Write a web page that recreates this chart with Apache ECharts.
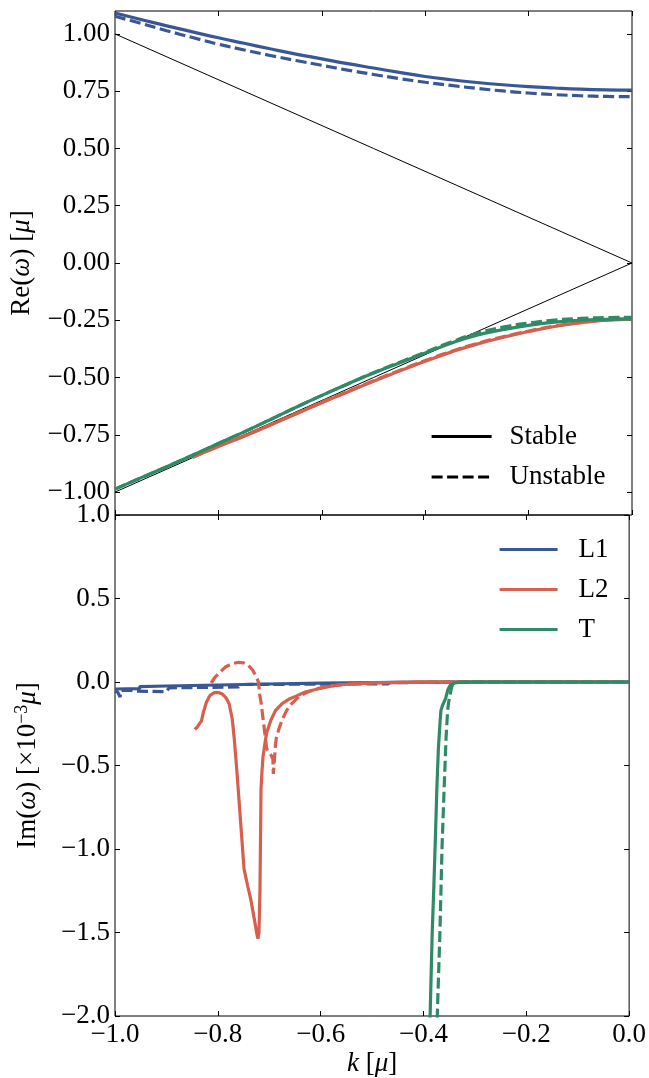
<!DOCTYPE html>
<html lang="en">
<head>
<meta charset="UTF-8">
<title>Dispersion</title>
<script src="https://cdn.jsdelivr.net/npm/echarts@6.0.0/dist/echarts.min.js"></script>
</head>
<body style="margin:0;background:#fff">
<div id="chart" style="width:649px;height:1078px"></div>
<script>
// ---- data ----
// Re(w) panel, k grid
var kRe = [-1.00, -0.95, -0.90, -0.85, -0.80, -0.75, -0.70, -0.65, -0.60, -0.55, -0.50,
           -0.45, -0.40, -0.35, -0.30, -0.25, -0.20, -0.15, -0.10, -0.05, 0.00];
var reL1Stable   = [1.091, 1.063, 1.035, 1.009, 0.983, 0.959, 0.935, 0.912, 0.891, 0.870, 0.851,
                    0.832, 0.814, 0.800, 0.788, 0.778, 0.770, 0.764, 0.759, 0.756, 0.755];
var reL1Unstable = [1.077, 1.046, 1.014, 0.984, 0.955, 0.930, 0.906, 0.884, 0.863, 0.842, 0.823,
                    0.805, 0.789, 0.775, 0.762, 0.751, 0.742, 0.735, 0.730, 0.727, 0.726];
var reTStable    = [-0.987, -0.938, -0.889, -0.839, -0.788, -0.737, -0.684, -0.630, -0.578, -0.528, -0.480,
                    -0.436, -0.393, -0.350, -0.315, -0.291, -0.272, -0.258, -0.250, -0.246, -0.244];
var reTUnstable  = [-0.987, -0.938, -0.889, -0.839, -0.788, -0.737, -0.684, -0.630, -0.578, -0.528, -0.479,
                    -0.434, -0.390, -0.345, -0.307, -0.280, -0.262, -0.249, -0.242, -0.238, -0.237];
var kReL2 = [-0.85, -0.80, -0.75, -0.70, -0.65, -0.60, -0.55, -0.50, -0.45,
             -0.40, -0.35, -0.30, -0.25, -0.20, -0.15, -0.10, -0.05, 0.00];
var reL2Stable   = [-0.848, -0.801, -0.756, -0.708, -0.659, -0.610, -0.563, -0.516, -0.472,
                    -0.429, -0.389, -0.354, -0.325, -0.299, -0.277, -0.261, -0.250, -0.245];
var reL2Unstable = [-0.848, -0.800, -0.754, -0.706, -0.657, -0.608, -0.561, -0.514, -0.469,
                    -0.426, -0.386, -0.351, -0.322, -0.297, -0.275, -0.259, -0.249, -0.244];
// light lines w = +-k
var kDiag = [-1, 0];
var diagUp = [1, 0];
var diagDown = [-1, 0];

// Im(w) panel (x 1e-3)
var kImL1Stable = [-1.000, -0.952, -0.952, -0.900, -0.800, -0.700, -0.600, -0.500, -0.400, -0.300, 0.000];
var imL1Stable  = [-0.042, -0.040, -0.028, -0.024, -0.018, -0.012, -0.007, -0.003, -0.001, 0.000, 0.000];
var kImL1Unstable = [-1.000, -0.995, -0.990, -0.988, -0.970, -0.960, -0.900, -0.895, -0.820, -0.760, -0.755, -0.570, -0.470, -0.465, -0.300, 0.000];
var imL1Unstable  = [-0.055, -0.060, -0.090, -0.050, -0.050, -0.055, -0.058, -0.035, -0.032, -0.030, -0.015, -0.012, -0.012, -0.004, 0.000, 0.000];

var kImL2Stable = [-0.845, -0.840, -0.836, -0.832, -0.828, -0.822, -0.815, -0.807, -0.800, -0.792, -0.784, -0.778,
                   -0.772, -0.768, -0.763, -0.758, -0.753, -0.749, -0.742, -0.736, -0.729, -0.724, -0.722, -0.720,
                   -0.719, -0.718, -0.717, -0.716, -0.714, -0.712, -0.708, -0.705, -0.697, -0.688, -0.675, -0.660,
                   -0.649, -0.630, -0.610, -0.597, -0.575, -0.546, -0.500, -0.450, -0.400, -0.350, 0.000];
var imL2Stable  = [-0.284, -0.270, -0.250, -0.235, -0.180, -0.120, -0.080, -0.064, -0.062, -0.070, -0.095, -0.130,
                   -0.220, -0.340, -0.530, -0.740, -0.950, -1.120, -1.220, -1.300, -1.420, -1.510, -1.537, -1.500,
                   -1.380, -1.240, -0.950, -0.640, -0.530, -0.444, -0.360, -0.304, -0.230, -0.172, -0.130, -0.100,
                   -0.086, -0.060, -0.045, -0.036, -0.022, -0.012, -0.005, -0.002, -0.001, 0.000, 0.000];
var kImL2Unstable = [-0.813, -0.805, -0.795, -0.785, -0.772, -0.760, -0.750, -0.740, -0.732, -0.726, -0.721, -0.720,
                     -0.719, -0.716, -0.712, -0.708, -0.705, -0.700, -0.696, -0.693, -0.692, -0.690, -0.688, -0.686,
                     -0.680, -0.674, -0.666, -0.658, -0.642, -0.625, -0.610, -0.585, -0.558, -0.520, -0.480, -0.400,
                     -0.300, 0.000];
var imL2Unstable  = [-0.006, 0.030, 0.062, 0.090, 0.110, 0.118, 0.115, 0.098, 0.070, 0.035, 0.000, -0.030,
                     -0.070, -0.120, -0.220, -0.320, -0.400, -0.420, -0.440, -0.460, -0.550, -0.470, -0.380, -0.330,
                     -0.270, -0.220, -0.170, -0.135, -0.086, -0.060, -0.042, -0.025, -0.016, -0.008, -0.004, -0.001,
                     0.000, 0.000];

var kImTStable = [-0.392, -0.387, -0.383, -0.380, -0.377, -0.374, -0.371, -0.368, -0.366, -0.363, -0.360, -0.357,
                  -0.353, -0.348, -0.340, -0.330, -0.300, 0.000];
var imTStable  = [-2.300, -1.990, -1.500, -1.240, -0.950, -0.640, -0.400, -0.250, -0.170, -0.140, -0.130, -0.100,
                  -0.050, -0.020, -0.006, -0.002, 0.000, 0.000];
var kImTUnstable = [-0.374, -0.373, -0.368, -0.364, -0.360, -0.356, -0.353, -0.351, -0.349, -0.346, -0.343, -0.335, -0.300, 0.000];
var imTUnstable  = [-2.300, -1.980, -1.500, -1.000, -0.650, -0.330, -0.170, -0.120, -0.090, -0.040, -0.010, -0.002, 0.000, 0.000];

var reTicks = [-1.00, -0.75, -0.50, -0.25, 0.00, 0.25, 0.50, 0.75, 1.00];

// ---- styling ----
var BLUE = '#3a5795', RED = '#d6604d', GREEN = '#2e8b66';
var FONT = 'Liberation Serif';
var FS = 27;
var LW = 3.2;
var DASH = [11, 4.5];

function pairs(ks, vs) {
    return ks.map(function (k, i) { return [k, vs[i]]; });
}
function fmt(d) {
    return function (v) {
        var s = Math.abs(v).toFixed(d);
        return (v < -1e-9 ? '\u2212' : '') + s;
    };
}
function curve(name, panel, ks, vs, color, dashed, width, smooth) {
    return {
        name: name,
        type: 'line',
        xAxisIndex: panel * 2,
        yAxisIndex: panel * 2,
        data: pairs(ks, vs),
        symbol: 'none',
        smooth: smooth || false,
        clip: true,
        color: color,
        lineStyle: {color: color, width: width, type: dashed ? DASH : 'solid', cap: 'butt'},
        emphasis: {disabled: true},
        silent: true,
        animation: false
    };
}

function xAx(grid, top, labels) {
    return {
        type: 'value', gridIndex: grid, position: top ? 'top' : 'bottom',
        min: -1, max: 0, interval: 0.2,
        axisLine: {show: false, onZero: false},
        axisTick: {show: true, inside: true, length: 5, lineStyle: {color: '#000', width: 1}},
        axisLabel: {show: labels, formatter: fmt(1), color: '#000', fontFamily: FONT, fontSize: FS, margin: 5},
        splitLine: {show: false}
    };
}
function yAx(grid, right, labels) {
    var a = {
        type: 'value', gridIndex: grid, position: right ? 'right' : 'left',
        axisLine: {show: false, onZero: false},
        axisTick: {show: true, inside: true, length: 5, lineStyle: {color: '#000', width: 1}},
        axisLabel: {show: labels, color: '#000', fontFamily: FONT, fontSize: FS, margin: 5},
        splitLine: {show: false}
    };
    if (grid === 0) {
        a.min = -1.1; a.max = 1.1;
        a.axisTick.customValues = reTicks;
        a.axisLabel.customValues = reTicks;
        a.axisLabel.formatter = fmt(2);
    } else {
        a.min = -2; a.max = 1; a.interval = 0.5;
        a.axisLabel.formatter = fmt(1);
    }
    return a;
}

var rich = {
    r: {fontFamily: FONT, fontSize: FS, color: '#000'},
    i: {fontFamily: FONT, fontSize: FS, fontStyle: 'italic', color: '#000'},
    sup: {fontFamily: FONT, fontSize: 18, color: '#000', verticalAlign: 'top', padding: [0, 0, 12, 0]}
};

var xAxes = [xAx(0, false, false), xAx(0, true, false), xAx(1, false, true), xAx(1, true, false)];
xAxes[2].name = '{i|k}{r| [}{i|\u03bc}{r|]}';
xAxes[2].nameLocation = 'middle';
xAxes[2].nameGap = 34;
xAxes[2].nameTextStyle = {rich: rich};

var yAxes = [yAx(0, false, true), yAx(0, true, false), yAx(1, false, true), yAx(1, true, false)];
yAxes[0].name = '{r|Re(}{i|\u03c9}{r|) [}{i|\u03bc}{r|]}';
yAxes[0].nameLocation = 'middle';
yAxes[0].nameGap = 80;
yAxes[0].nameTextStyle = {rich: rich};
yAxes[2].name = '{r|Im(}{i|\u03c9}{r|) [\u00d710}{sup|\u22123}{i|\u03bc}{r|]}';
yAxes[2].nameLocation = 'middle';
yAxes[2].nameGap = 72;
yAxes[2].nameTextStyle = {rich: rich};

var series = [
    curve('diag1', 0, kDiag, diagUp, '#000', false, 1),
    curve('diag2', 0, kDiag, diagDown, '#000', false, 1),
    curve('L1', 0, kRe, reL1Stable, BLUE, false, LW, true),
    curve('L1 unstable', 0, kRe, reL1Unstable, BLUE, true, LW, true),
    curve('L2', 0, kReL2, reL2Stable, RED, false, LW, true),
    curve('L2 unstable', 0, kReL2, reL2Unstable, RED, true, LW, true),
    curve('T', 0, kRe, reTStable, GREEN, false, LW, true),
    curve('T unstable', 0, kRe, reTUnstable, GREEN, true, LW, true),
    curve('L1', 1, kImL1Stable, imL1Stable, BLUE, false, LW),
    curve('L1 unstable', 1, kImL1Unstable, imL1Unstable, BLUE, true, LW),
    curve('L2', 1, kImL2Stable, imL2Stable, RED, false, LW),
    curve('L2 unstable', 1, kImL2Unstable, imL2Unstable, RED, true, LW),
    curve('T', 1, kImTStable, imTStable, GREEN, false, LW),
    curve('T unstable', 1, kImTUnstable, imTUnstable, GREEN, true, LW),
    // proxies for the line-style legend
    curve('Stable', 0, [], [], '#000', false, LW),
    curve('Unstable', 0, [], [], '#000', true, LW)
];

var legendText = {fontFamily: FONT, fontSize: FS, color: '#000', lineHeight: 26};

var option = {
    animation: false,
    backgroundColor: '#fff',
    grid: [
        {left: 115, top: 11, width: 517, height: 504, show: true, borderColor: '#000', borderWidth: 1, backgroundColor: 'transparent'},
        {left: 115, top: 515, width: 517, height: 503, show: true, borderColor: '#000', borderWidth: 1, backgroundColor: 'transparent'}
    ],
    xAxis: xAxes,
    yAxis: yAxes,
    legend: [
        {
            data: ['Stable', 'Unstable'], orient: 'vertical', left: 430, top: 423, padding: 0,
            itemWidth: 60, itemHeight: 14, itemGap: 13.5, selectedMode: false,
            itemStyle: {opacity: 0},
            lineStyle: {width: LW},
            textStyle: Object.assign({padding: [0, 0, 0, 13]}, legendText)
        },
        {
            data: ['L1', 'L2', 'T'], orient: 'vertical', left: 498, top: 536, padding: 0,
            itemWidth: 58, itemHeight: 14, itemGap: 13, selectedMode: false,
            itemStyle: {opacity: 0},
            lineStyle: {width: LW},
            textStyle: Object.assign({padding: [0, 0, 0, 16]}, legendText)
        }
    ],
    series: series
};

var chart = echarts.init(document.getElementById('chart'), null, {renderer: 'canvas'});
chart.setOption(option);
</script>
</body>
</html>
